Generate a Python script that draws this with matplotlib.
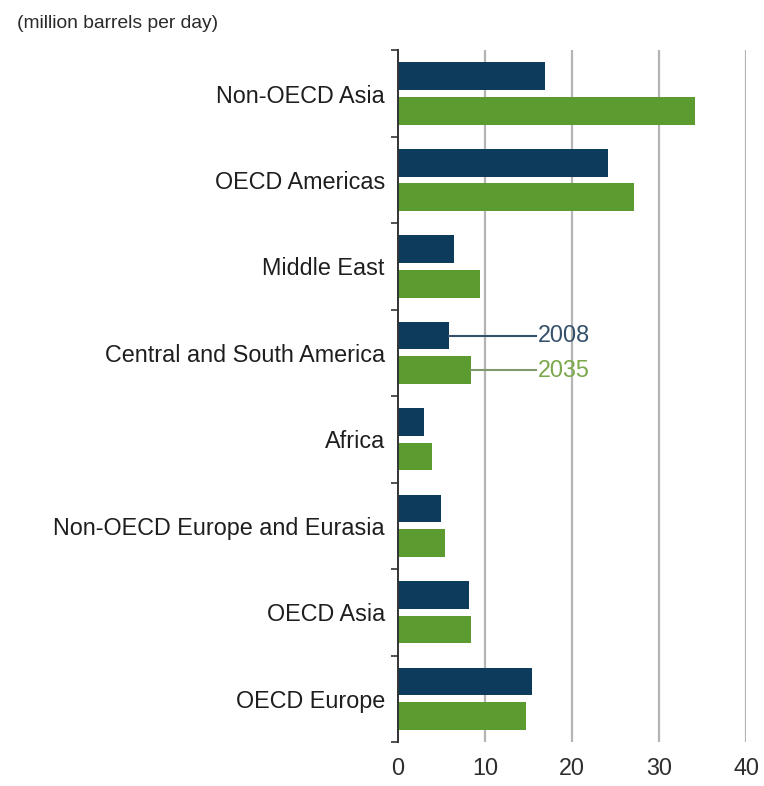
import matplotlib
matplotlib.use("Agg")
import matplotlib.pyplot as plt
from matplotlib import font_manager

regions = ["Non-OECD Asia", "OECD Americas", "Middle East", "Central and South America",
           "Africa", "Non-OECD Europe and Eurasia", "OECD Asia", "OECD Europe"]
v2008 = [16.9, 24.1, 6.4, 5.8, 3.0, 4.9, 8.1, 15.4]
v2035 = [34.1, 27.1, 9.4, 8.4, 3.9, 5.4, 8.4, 14.7]
xticks = [0, 10, 20, 30, 40]

navy = "#0d3b5c"
green = "#5c9b2f"

names = {f.name for f in font_manager.fontManager.ttflist}
if "Liberation Sans Narrow" in names:
    family, k = "Liberation Sans Narrow", 1.0
else:
    family, k = "Liberation Sans", 0.84
plt.rcParams["font.family"] = family

fig = plt.figure(figsize=(7.64, 7.86), dpi=100)
ax = fig.add_axes([0.521, 0.056, 0.456, 0.880])

y = list(range(len(regions)))
h = 0.32
ax.barh([i - 0.2 for i in y], v2008, height=h, color=navy, zorder=3)
ax.barh([i + 0.2 for i in y], v2035, height=h, color=green, zorder=3)

ax.set_xlim(0, 40)
ax.set_ylim(len(regions) - 0.5, -0.5)

for t in xticks[1:]:
    ax.axvline(t, color="#b5b5b5", lw=1.6, zorder=1)

ax.set_yticks(y)
ax.set_yticklabels(regions, fontsize=20 * k, color="#1e1e1e")
ax.set_yticks([i - 0.5 for i in range(len(regions) + 1)], minor=True)
ax.tick_params(axis="y", which="major", length=0, pad=9.5)
ax.tick_params(axis="y", which="minor", length=5, width=1.2, color="#333333")

ax.set_xticks(xticks)
ax.set_xticklabels([str(t) for t in xticks], fontsize=20 * k, color="#2e2e2e")
ax.tick_params(axis="x", length=0, pad=11)

for s in ["top", "right", "bottom"]:
    ax.spines[s].set_visible(False)
ax.spines["left"].set_color("#333333")
ax.spines["left"].set_linewidth(1.4)
ax.spines["left"].set_zorder(4)

# inline legend on Central and South America
i = 3
ax.plot([v2008[i], 15.8], [i - 0.2, i - 0.2], color="#34506a", lw=1.5, zorder=4)
ax.plot([v2035[i], 15.8], [i + 0.2, i + 0.2], color="#7f9a6a", lw=1.5, zorder=4)
ax.text(16.0, i - 0.2, "2008", fontsize=20 * k, color="#34506a", va="center", ha="left", zorder=5)
ax.text(16.0, i + 0.2, "2035", fontsize=20 * k, color="#7aa84a", va="center", ha="left", zorder=5)

fig.text(0.022, 0.981, "(million barrels per day)", fontsize=16.5 * k, color="#2a2a2a",
         va="top", ha="left")

fig.savefig("out.png", dpi=100)
